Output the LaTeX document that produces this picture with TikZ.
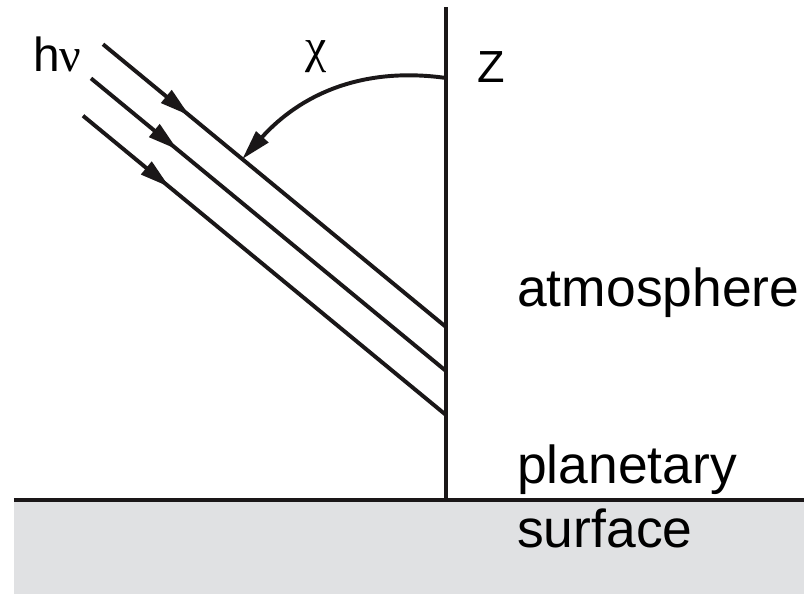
\documentclass[tikz,border=0pt]{standalone}
\usepackage{fontspec}
\setmainfont{Liberation Sans}
\newfontfamily\greekfont{Liberation Serif}
\usepackage{xcolor}
\usepackage{tikz}
\usetikzlibrary{positioning, arrows.meta, calc, decorations.markings}
\definecolor{ink}{HTML}{1A1718}
\definecolor{ground}{HTML}{E0E1E3}
\tikzset{
  line/.style    ={draw=ink, line width=2.8pt},
  tip/.style     ={-{Triangle[length=7.5mm, width=4mm]}},
  midarrow/.style={postaction={decorate},
                   decoration={markings,
                     mark=at position 2.8cm with {\arrow[ink]{Triangle[length=7.5mm, width=4mm]}}}},
  sym/.style     ={inner sep=0pt, text=black, font=\fontsize{34}{38}\selectfont},
  lbl/.style     ={inner sep=0pt, anchor=base west, text=black, font=\fontsize{38}{42}\selectfont},
}
\begin{document}
\begin{tikzpicture}
  \useasboundingbox (-11.15,-2.35) rectangle (8.95,12.5);
  % ground and zenith axis
  \fill[ground] (-10.8,-2.35) rectangle (8.95,0);
  \coordinate (GL) at (-10.8,0);
  \coordinate (GR) at (8.95,0);
  \coordinate (ZB) at (0,0);
  \coordinate (ZT) at (0,12.325);
  \draw[line] (GL) -- (GR);
  \draw[line] (ZB) -- (ZT);
  % incoming rays
  \coordinate (R1E) at (0,4.325);
  \coordinate (R2E) at (0,3.225);
  \coordinate (R3E) at (0,2.125);
  \coordinate (R1S) at (-8.575,11.393);
  \coordinate (R2S) at (-8.875,10.541);
  \coordinate (R3S) at (-9.075,9.606);
  \draw[line, midarrow] (R1S) -- (R1E);
  \draw[line, midarrow] (R2S) -- (R2E);
  \draw[line, midarrow] (R3S) -- (R3E);
  % zenith angle
  \coordinate (CHS) at (0,10.55);
  \coordinate (CHE) at ($(R1E)!6.6cm!(R1S)$);
  \draw[line, tip] (CHS) to[out=172, in=48] (CHE);
  \node[sym, anchor=base west] (HNU) at (-10.325,10.7) {h{\greekfont ν}};
  \node[sym] (CHI) at (-3.25,11.075) {\greekfont χ};
  \node[sym, anchor=base west, font=\fontsize{32}{36}\selectfont] (Z) at (0.775,10.425) {Z};
  \node[lbl] (ATM)  at (1.775,4.825) {atmosphere};
  \node[lbl] (PLAN) at (1.775,0.4)   {planetary};
  \node[lbl] (SURF) at (1.775,-1.2)  {surface};
\end{tikzpicture}
\end{document}
